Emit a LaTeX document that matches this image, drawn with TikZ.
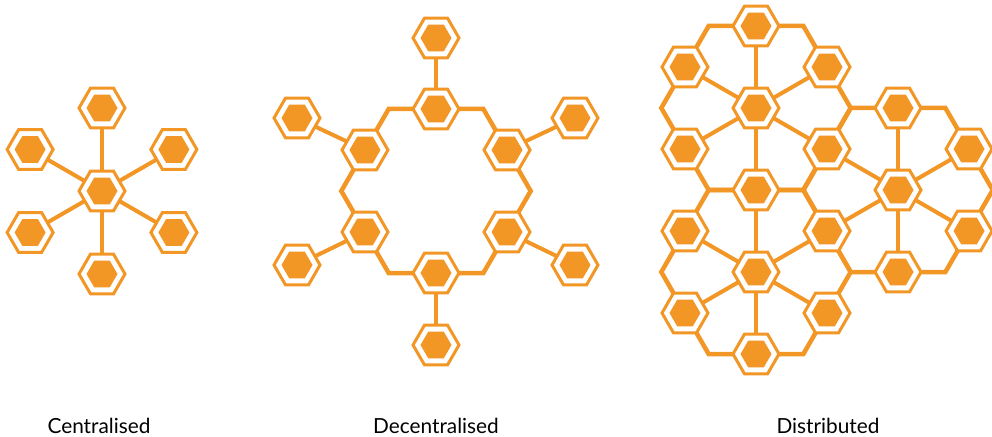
\documentclass[tikz,border=0pt]{standalone}
\usepackage{fontspec}
\setmainfont{Lato}
\usetikzlibrary{shapes.geometric,calc,backgrounds}
\definecolor{hexor}{RGB}{242,150,38}
\begin{document}
\begin{tikzpicture}[x=1pt,y=1pt,
  hexnode/.style={regular polygon, regular polygon sides=6, minimum size=46pt,
    inner sep=0pt, outer sep=0pt, draw=hexor, line width=3pt, fill=white,
    path picture={\fill[hexor] (path picture bounding box.center) +(0:15.5pt) -- +(60:15.5pt) -- +(120:15.5pt) -- +(180:15.5pt) -- +(240:15.5pt) -- +(300:15.5pt) -- cycle;}},
  spoke/.style={draw=hexor, line width=4pt},
  ring/.style={draw=hexor, line width=4.5pt, line join=miter},
  lbl/.style={font=\fontsize{20.8}{24}\selectfont, text=black, anchor=base, inner sep=0pt}
]
\useasboundingbox (0,0) rectangle (992,436);
\clip (0,0) rectangle (992,436);

% ---------- Centralised ----------
\coordinate (cc) at (102,245);
\node[hexnode] (c0) at (cc) {};
\foreach \a [count=\i] in {90,30,-30,-90,-150,150}
  \node[hexnode] (c\i) at ($(cc)+(\a:83)$) {};

% ---------- Decentralised ----------
\coordinate (dc) at (436,245);
\foreach \a [count=\i] in {90,30,-30,-90,-150,150}
  \node[hexnode] (d\i) at ($(dc)+(\a:82)$) {};
\foreach \a in {0,60,120,180,240,300}
  \coordinate (dv\a) at ($(dc)+(\a:94.7)$);
\node[hexnode] (s1) at (436,398) {};
\node[hexnode] (s2) at (575,318) {};
\node[hexnode] (s3) at (575,171) {};
\node[hexnode] (s4) at (436,91) {};
\node[hexnode] (s5) at (297,171) {};
\node[hexnode] (s6) at (297,318) {};

% ---------- Distributed ----------
\node[hexnode] (hA) at (756,328) {};
\node[hexnode] (hB) at (756,164) {};
\node[hexnode] (hC) at ($(hA)+(-30:164)$) {};
\node[hexnode] (t1) at ($(hA)+(90:82)$) {};
\node[hexnode] (t2) at ($(hA)+(150:82)$) {};
\node[hexnode] (t3) at ($(hA)+(30:82)$) {};
\node[hexnode] (t4) at ($(hA)+(-150:82)$) {};
\node[hexnode] (t5) at ($(hA)+(-30:82)$) {};
\node[hexnode] (t6) at ($(hA)+(-90:82)$) {};
\node[hexnode] (t7) at ($(hB)+(150:82)$) {};
\node[hexnode] (t8) at ($(hB)+(30:82)$) {};
\node[hexnode] (t9) at ($(hB)+(-150:82)$) {};
\node[hexnode] (t10) at ($(hB)+(-30:82)$) {};
\node[hexnode] (t11) at ($(hB)+(-90:82)$) {};
\node[hexnode] (u1) at ($(hC)+(90:82)$) {};
\node[hexnode] (u2) at ($(hC)+(30:82)$) {};
\node[hexnode] (u3) at ($(hC)+(-30:82)$) {};
\node[hexnode] (u4) at ($(hC)+(-90:82)$) {};
\foreach \a in {0,60,120,180,240,300} {
  \coordinate (av\a) at ($(hA)+(\a:94.7)$);
  \coordinate (bv\a) at ($(hB)+(\a:94.7)$);
  \coordinate (cv\a) at ($(hC)+(\a:94.7)$);
}

% ---------- Connectors ----------
\begin{scope}[on background layer]
  \foreach \i in {1,...,6} \draw[spoke] (c0) -- (c\i);
  \draw[ring] (d1.center) -- (dv60) -- (d2.center) -- (dv0) -- (d3.center) -- (dv300)
    -- (d4.center) -- (dv240) -- (d5.center) -- (dv180) -- (d6.center) -- (dv120) -- cycle;
  \foreach \i in {1,...,6} \draw[spoke] (d\i) -- (s\i);
  \draw[ring] (t1.center) -- (av60) -- (t3.center) -- (av0) -- (t5.center) -- (av300)
    -- (t6.center) -- (av240) -- (t4.center) -- (av180) -- (t2.center) -- (av120) -- cycle;
  \draw[ring] (t6.center) -- (bv60) -- (t8.center) -- (bv0) -- (t10.center) -- (bv300)
    -- (t11.center) -- (bv240) -- (t9.center) -- (bv180) -- (t7.center) -- (bv120) -- cycle;
  \draw[ring] (u1.center) -- (cv60) -- (u2.center) -- (cv0) -- (u3.center) -- (cv300)
    -- (u4.center) -- (cv240) -- (t8.center) -- (cv180) -- (t5.center) -- (cv120) -- cycle;
  \foreach \n in {t1,t2,t3,t4,t5,t6} \draw[spoke] (hA) -- (\n);
  \foreach \n in {t6,t7,t8,t9,t10,t11} \draw[spoke] (hB) -- (\n);
  \foreach \n in {u1,u2,u3,u4,t8,t5} \draw[spoke] (hC) -- (\n);
\end{scope}

% ---------- Labels ----------
\node[lbl] (lab1) at (99,3) {Centralised};
\node[lbl] (lab2) at (436,3) {Decentralised};
\node[lbl] (lab3) at (828,3) {Distributed};
\end{tikzpicture}
\end{document}
